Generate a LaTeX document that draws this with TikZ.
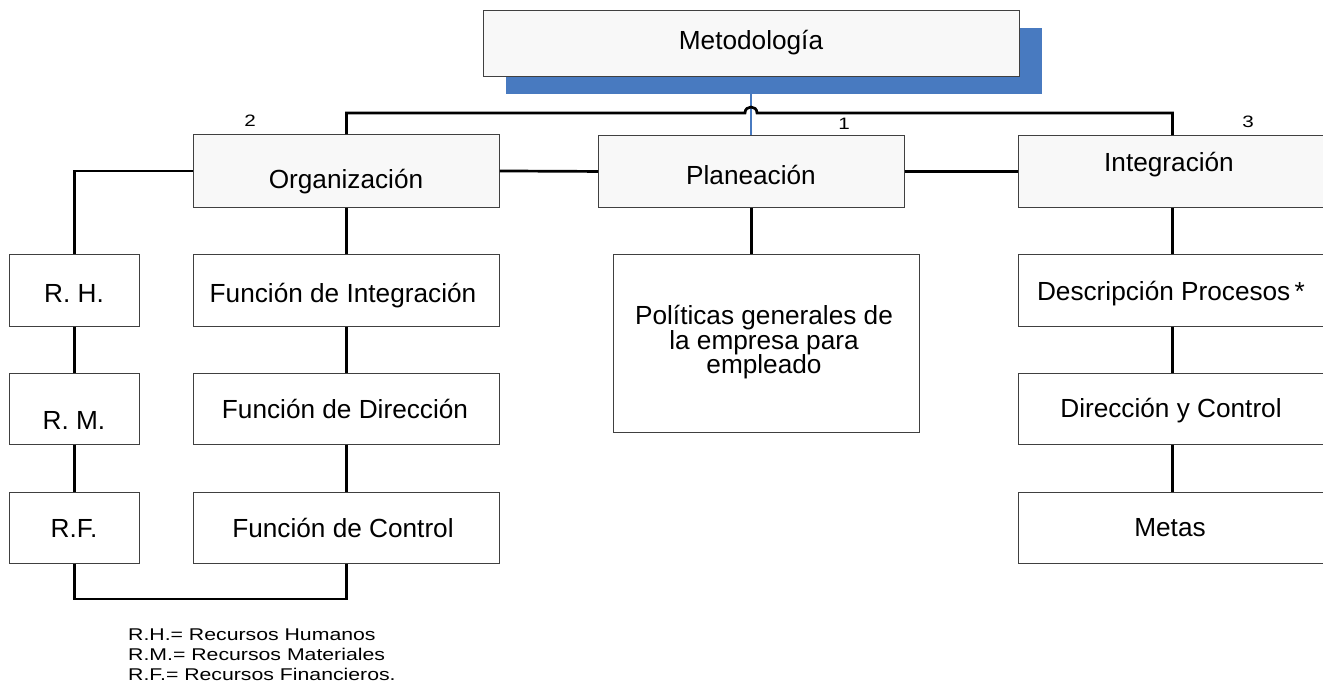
\documentclass[tikz,border=0pt]{standalone}
\usepackage{fontspec}
\setmainfont{Liberation Sans}
\newfontfamily\legfont{Liberation Sans}[FakeStretch=1.25]
\definecolor{hdrfill}{RGB}{248,248,248}
\definecolor{boxline}{RGB}{64,64,64}
\definecolor{shadowblue}{RGB}{72,122,192}
\begin{document}
\begin{tikzpicture}[x=1pt,y=-1pt,
  box/.style={draw=boxline, line width=0.9pt, fill=white, rectangle, inner sep=0pt, anchor=north west},
  hdr/.style={box, fill=hdrfill},
  txt/.style={anchor=base, inner sep=0pt, font=\fontsize{26.2}{30}\selectfont},
  smalltxt/.style={anchor=base, inner sep=0pt, font=\legfont\fontsize{16.5}{20}\selectfont},
  legtxt/.style={anchor=base west, inner sep=0pt, font=\legfont\fontsize{17}{20}\selectfont},
  conn/.style={draw=black, line width=2.7pt},
  blueline/.style={draw=shadowblue, line width=2pt}]
\clip (0,0) rectangle (1323,681);
\fill[white] (0,0) rectangle (1323,681);

% boxes
\node[fill=shadowblue, rectangle, inner sep=0pt, anchor=north west, minimum width=536pt, minimum height=66pt] (metshadow) at (506,28) {};
\node[hdr, minimum width=536pt, minimum height=66pt] (met) at (483,10) {};
\node[hdr, minimum width=306pt, minimum height=73pt] (org) at (193,134) {};
\node[hdr, minimum width=306pt, minimum height=72pt] (plan) at (598,135) {};
\node[hdr, minimum width=308pt, minimum height=72pt] (int) at (1018,135) {};
\node[box, minimum width=130pt, minimum height=72pt] (rh) at (9,254) {};
\node[box, minimum width=306pt, minimum height=72pt] (fi) at (193,254) {};
\node[box, minimum width=130pt, minimum height=71pt] (rm) at (9,373) {};
\node[box, minimum width=306pt, minimum height=71pt] (fd) at (193,373) {};
\node[box, minimum width=130pt, minimum height=71pt] (rf) at (9,492) {};
\node[box, minimum width=306pt, minimum height=71pt] (fc) at (193,492) {};
\node[box, minimum width=306pt, minimum height=178pt] (pol) at (613,254) {};
\node[box, minimum width=308pt, minimum height=72pt] (dp) at (1018,254) {};
\node[box, minimum width=308pt, minimum height=71pt] (dc) at (1018,373) {};
\node[box, minimum width=308pt, minimum height=71pt] (metas) at (1018,492) {};

% texts
\node[txt] (tmet) at (751,49) {Metodología};
\node[txt] (torg) at (346,188) {Organización};
\node[txt] (tplan) at (751,184) {Planeación};
\node[txt] (tint) at (1169,171) {Integración};
\node[txt] (trh) at (74,302) {R. H.};
\node[txt] (tfi) at (343,302) {Función de Integración};
\node[txt] (trm) at (74,429) {R. M.};
\node[txt] (tfd) at (345,418) {Función de Dirección};
\node[txt] (trf) at (74,537) {R.F.};
\node[txt] (tfc) at (343,537) {Función de Control};
\node[txt] (tpol1) at (764,324) {Políticas generales de};
\node[txt] (tpol2) at (764,349) {la empresa para};
\node[txt] (tpol3) at (764,373) {empleado};
\node[txt] (tdp) at (1171,300) {Descripción Procesos\,*};
\node[txt] (tdc) at (1171,417) {Dirección y Control};
\node[txt] (tmetas) at (1170,536) {Metas};

% numbers
\node[smalltxt] (n2) at (250,126) {2};
\node[smalltxt] (n1) at (844,129) {1};
\node[smalltxt] (n3) at (1248,127) {3};

% legend
\node[legtxt] (leg1) at (128,640) {R.H.= Recursos Humanos};
\node[legtxt] (leg2) at (128,660) {R.M.= Recursos Materiales};
\node[legtxt] (leg3) at (128,680) {R.F.= Recursos Financieros.};

% connectors
\draw[blueline] (plan.north |- met.south) -- (plan.north);
\coordinate (hopL) at (745,113);
\coordinate (hopR) at (757,113);
\draw[conn] (org.north) |- (hopL) .. controls +(0,-8) and +(0,-8) .. (hopR) -| (int.north);
\draw[conn] (org.east) -- (plan.west);
\draw[conn] (plan.east) -- (int.west);
\draw[conn] (org.west) -| (rh.north);
\draw[conn] (rh.south) -- (rm.north);
\draw[conn] (rm.south) -- (rf.north);
\draw[conn] (rf.south) -- ++(0,35) -| (fc.south);
\draw[conn] (org.south) -- (fi.north);
\draw[conn] (fi.south) -- (fd.north);
\draw[conn] (fd.south) -- (fc.north);
\draw[conn] (plan.south) -- (plan.south |- pol.north);
\draw[conn] (int.south) -- (dp.north);
\draw[conn] (dp.south) -- (dc.north);
\draw[conn] (dc.south) -- (metas.north);
\end{tikzpicture}
\end{document}
